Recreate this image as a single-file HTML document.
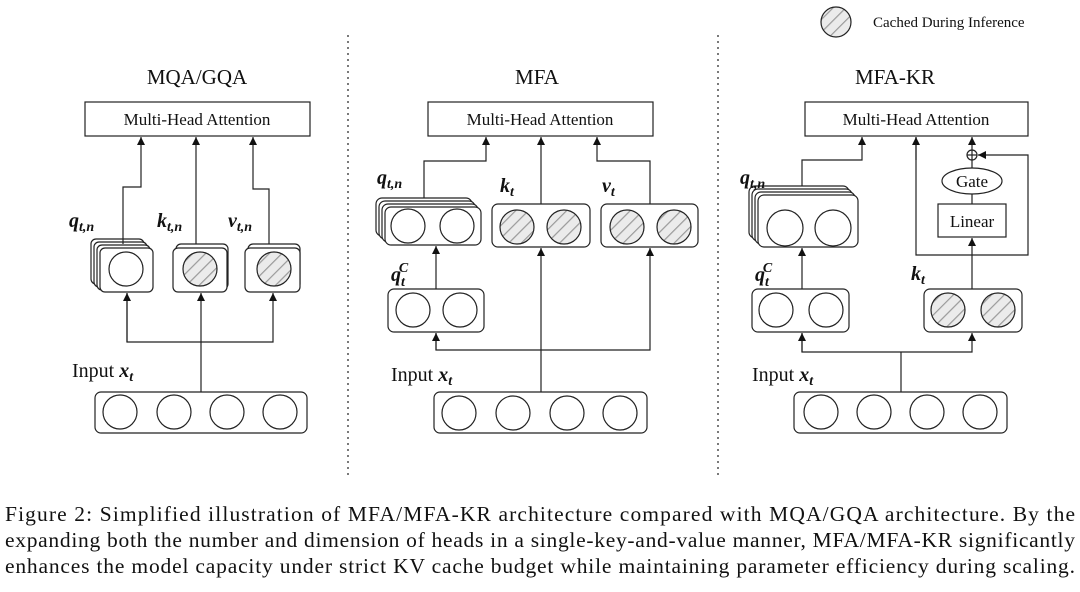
<!DOCTYPE html>
<html><head><meta charset="utf-8"><style>
html,body{margin:0;padding:0;background:#fff;}
svg{display:block;}
text{font-family:"Liberation Serif",serif;fill:#111;}
.m{font-style:italic;font-weight:bold;}
</style></head><body>
<svg width="1080" height="592" viewBox="0 0 1080 592" xmlns="http://www.w3.org/2000/svg">
<defs>
<pattern id="h" patternUnits="userSpaceOnUse" width="9" height="9" patternTransform="rotate(45)">
<rect width="9" height="9" fill="#ebebeb"/><line x1="0" y1="0" x2="0" y2="9" stroke="#9a9a9a" stroke-width="2.4"/>
</pattern>
<marker id="a" markerWidth="8" markerHeight="8" refX="8" refY="4" orient="auto" markerUnits="userSpaceOnUse" viewBox="0 0 8 8">
<path d="M0,0 L8,4 L0,8 z" fill="#111"/>
</marker>
</defs>
<g fill="none" stroke="#222" stroke-width="1.2">
<circle cx="836" cy="22" r="15" fill="url(#h)"/>
<line x1="348" y1="35" x2="348" y2="476" stroke-dasharray="2,4"/>
<line x1="718" y1="35" x2="718" y2="476" stroke-dasharray="2,4"/>

<!-- PANEL 1 -->
<rect x="85" y="102" width="225" height="34"/>
<rect x="91" y="239" width="53" height="45" rx="5" fill="#fff"/>
<rect x="94" y="242" width="53" height="45" rx="5" fill="#fff"/>
<rect x="97" y="245" width="53" height="45" rx="5" fill="#fff"/>
<rect x="100" y="248" width="53" height="44" rx="5" fill="#fff"/>
<circle cx="126" cy="269" r="17"/>
<rect x="176" y="244" width="52" height="45" rx="5" fill="#fff"/>
<rect x="173" y="248" width="54" height="44" rx="5" fill="#fff"/>
<circle cx="200" cy="269" r="17" fill="url(#h)"/>
<rect x="248" y="244" width="52" height="45" rx="5" fill="#fff"/>
<rect x="245" y="248" width="55" height="44" rx="5" fill="#fff"/>
<circle cx="274" cy="269" r="17" fill="url(#h)"/>
<polyline points="123,244 123,187 141,187 141,137" marker-end="url(#a)"/>
<line x1="196" y1="244" x2="196" y2="137" marker-end="url(#a)"/>
<polyline points="269,244 269,189 253,189 253,137" marker-end="url(#a)"/>
<line x1="201" y1="392" x2="201" y2="293" marker-end="url(#a)"/>
<polyline points="127,293 127,342 273,342 273,293" marker-end="url(#a)"/>
<line x1="127" y1="342" x2="127" y2="293" marker-end="url(#a)"/>
<rect x="95" y="392" width="212" height="41" rx="6"/>
<circle cx="120" cy="412" r="17"/><circle cx="174" cy="412" r="17"/><circle cx="227" cy="412" r="17"/><circle cx="280" cy="412" r="17"/>

<!-- PANEL 2 -->
<rect x="428" y="102" width="225" height="34"/>
<rect x="376" y="198" width="96" height="38" rx="6" fill="#fff"/>
<rect x="379" y="201" width="96" height="38" rx="6" fill="#fff"/>
<rect x="382" y="204" width="96" height="38" rx="6" fill="#fff"/>
<rect x="385" y="207" width="96" height="38" rx="6" fill="#fff"/>
<circle cx="408" cy="226" r="17"/><circle cx="457" cy="226" r="17"/>
<rect x="388" y="289" width="96" height="43" rx="6"/>
<circle cx="413" cy="310" r="17"/><circle cx="460" cy="310" r="17"/>
<rect x="492" y="204" width="98" height="43" rx="6"/>
<circle cx="517" cy="227" r="17" fill="url(#h)"/><circle cx="564" cy="227" r="17" fill="url(#h)"/>
<rect x="601" y="204" width="97" height="43" rx="6"/>
<circle cx="627" cy="227" r="17" fill="url(#h)"/><circle cx="674" cy="227" r="17" fill="url(#h)"/>
<polyline points="424,198 424,161 486,161 486,137" marker-end="url(#a)"/>
<line x1="541" y1="204" x2="541" y2="137" marker-end="url(#a)"/>
<polyline points="650,204 650,161 597,161 597,137" marker-end="url(#a)"/>
<line x1="436" y1="289" x2="436" y2="246" marker-end="url(#a)"/>
<line x1="541" y1="392" x2="541" y2="248" marker-end="url(#a)"/>
<polyline points="436,333 436,350 650,350 650,248" marker-end="url(#a)"/>
<line x1="436" y1="350" x2="436" y2="333" marker-end="url(#a)"/>
<rect x="434" y="392" width="213" height="41" rx="6"/>
<circle cx="459" cy="413" r="17"/><circle cx="513" cy="413" r="17"/><circle cx="567" cy="413" r="17"/><circle cx="620" cy="413" r="17"/>

<!-- PANEL 3 -->
<rect x="805" y="102" width="223" height="34"/>
<rect x="749" y="186" width="100" height="52" rx="6" fill="#fff"/>
<rect x="752" y="189" width="100" height="52" rx="6" fill="#fff"/>
<rect x="755" y="192" width="100" height="52" rx="6" fill="#fff"/>
<rect x="758" y="195" width="100" height="52" rx="6" fill="#fff"/>
<circle cx="785" cy="228" r="18"/><circle cx="833" cy="228" r="18"/>
<rect x="752" y="289" width="97" height="43" rx="6"/>
<circle cx="776" cy="310" r="17"/><circle cx="826" cy="310" r="17"/>
<rect x="924" y="289" width="98" height="43" rx="6"/>
<circle cx="948" cy="310" r="17" fill="url(#h)"/><circle cx="998" cy="310" r="17" fill="url(#h)"/>
<rect x="938" y="204" width="68" height="33"/>
<ellipse cx="972" cy="181" rx="30" ry="13"/>
<circle cx="972" cy="155" r="5"/>
<line x1="967" y1="155" x2="977" y2="155"/><line x1="972" y1="150" x2="972" y2="160"/>
<line x1="972" y1="289" x2="972" y2="238" marker-end="url(#a)"/>
<line x1="972" y1="204" x2="972" y2="194"/>
<line x1="972" y1="168" x2="972" y2="160"/>
<line x1="972" y1="150" x2="972" y2="137" marker-end="url(#a)"/>
<polyline points="916,137 916,255 1028,255 1028,155 978,155" marker-end="url(#a)"/>
<line x1="916" y1="160" x2="916" y2="137" marker-end="url(#a)"/>
<polyline points="802,186 802,160 862,160 862,137" marker-end="url(#a)"/>
<line x1="802" y1="289" x2="802" y2="248" marker-end="url(#a)"/>
<polyline points="802,333 802,352 972,352 972,333" marker-end="url(#a)"/>
<line x1="802" y1="352" x2="802" y2="333" marker-end="url(#a)"/>
<line x1="901" y1="392" x2="901" y2="352"/>
<rect x="794" y="392" width="213" height="41" rx="6"/>
<circle cx="821" cy="412" r="17"/><circle cx="874" cy="412" r="17"/><circle cx="927" cy="412" r="17"/><circle cx="980" cy="412" r="17"/>
</g>

<text x="873" y="27" font-size="15">Cached During Inference</text>
<text x="197" y="84" font-size="21" text-anchor="middle">MQA/GQA</text>
<text x="537" y="84" font-size="21" text-anchor="middle">MFA</text>
<text x="895" y="84" font-size="21" text-anchor="middle">MFA-KR</text>
<g font-size="17" text-anchor="middle">
<text x="197" y="125">Multi-Head Attention</text>
<text x="540" y="125">Multi-Head Attention</text>
<text x="916" y="125">Multi-Head Attention</text>
<text x="972" y="187">Gate</text>
<text x="972" y="227">Linear</text>
</g>
<g font-size="20">
<text x="72" y="377">Input <tspan class="m">x</tspan><tspan class="m" font-size="14" dy="4">t</tspan></text>
<text x="391" y="381">Input <tspan class="m">x</tspan><tspan class="m" font-size="14" dy="4">t</tspan></text>
<text x="752" y="381">Input <tspan class="m">x</tspan><tspan class="m" font-size="14" dy="4">t</tspan></text>
<text class="m" x="69" y="227">q<tspan font-size="14" dy="4">t,n</tspan></text>
<text class="m" x="157" y="227">k<tspan font-size="14" dy="4">t,n</tspan></text>
<text class="m" x="228" y="227">v<tspan font-size="14" dy="4">t,n</tspan></text>
<text class="m" x="377" y="184">q<tspan font-size="14" dy="4">t,n</tspan></text>
<text class="m" x="500" y="192">k<tspan font-size="14" dy="4">t</tspan></text>
<text class="m" x="602" y="192">v<tspan font-size="14" dy="4">t</tspan></text>
<text class="m" x="391" y="281">q<tspan font-size="14" dy="5">t</tspan><tspan font-size="14" dx="-6" dy="-14">C</tspan></text>
<text class="m" x="740" y="184">q<tspan font-size="14" dy="4">t,n</tspan></text>
<text class="m" x="755" y="281">q<tspan font-size="14" dy="5">t</tspan><tspan font-size="14" dx="-6" dy="-14">C</tspan></text>
<text class="m" x="911" y="280">k<tspan font-size="14" dy="4">t</tspan></text>
</g>
<g font-size="21.5">
<text x="5" y="521" textLength="1070" lengthAdjust="spacing">Figure 2: Simplified illustration of MFA/MFA-KR architecture compared with MQA/GQA architecture. By the</text>
<text x="5" y="547" textLength="1070" lengthAdjust="spacing">expanding both the number and dimension of heads in a single-key-and-value manner, MFA/MFA-KR significantly</text>
<text x="5" y="573" textLength="1070" lengthAdjust="spacing">enhances the model capacity under strict KV cache budget while maintaining parameter efficiency during scaling.</text>
</g>
</svg>
</body></html>
